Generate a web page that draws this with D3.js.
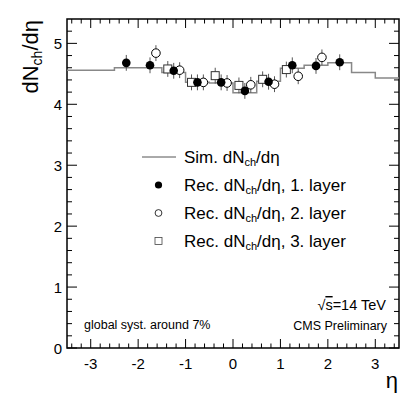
<!DOCTYPE html>
<html>
<head>
<meta charset="UTF-8">
<script src="https://d3js.org/d3.v7.min.js"></script>
<style>
  body { margin: 0; background: #fff; }
  svg { font-family: "Liberation Sans", Arial, Helvetica, sans-serif; }
</style>
</head>
<body>
<svg width="415" height="399"></svg>
<script>
// simulated histogram: bin edges and contents
const simEdges = [-3.5, -2.5, -1.5, -1.0, -0.5, 0, 0.5, 1.0, 1.5, 2.0, 2.5, 3.0, 3.5];
const simValues = [4.56, 4.60, 4.52, 4.36, 4.35, 4.19, 4.38, 4.59, 4.64, 4.68, 4.52, 4.43];

// reconstructed points, layer 1 (filled circles)
const l1Eta = [-2.25, -1.75, -1.25, -0.75, -0.25, 0.25, 0.75, 1.25, 1.75, 2.25];
const l1Val = [4.68, 4.64, 4.55, 4.36, 4.36, 4.22, 4.37, 4.64, 4.63, 4.69];
// layer 2 (open circles)
const l2Eta = [-1.625, -1.125, -0.625, -0.125, 0.375, 0.875, 1.375, 1.875];
const l2Val = [4.84, 4.56, 4.36, 4.35, 4.32, 4.33, 4.46, 4.77];
// layer 3 (open squares)
const l3Eta = [-1.375, -0.875, -0.375, 0.125, 0.625, 1.125];
const l3Val = [4.58, 4.36, 4.47, 4.31, 4.41, 4.57];
const errVal = 0.13;

const xTicks = [-3, -2, -1, 0, 1, 2, 3];
const yTicks = [0, 1, 2, 3, 4, 5];

const svg = d3.select("svg");
const L = 67, R = 399, T = 19, B = 348;

const x = d3.scaleLinear().domain([-3.5, 3.5]).range([L, R]);
const y = d3.scaleLinear().domain([0, 5.4]).range([B, T]);

// minor tick values
const xMinor = d3.range(-3.4, 3.5, 0.2).map(v => +v.toFixed(1)).filter(v => Math.abs(v - Math.round(v)) > 0.01);
const yMinor = d3.range(0.2, 5.4, 0.2).map(v => +v.toFixed(1)).filter(v => Math.abs(v - Math.round(v)) > 0.01);

const axes = svg.append("g").attr("stroke", "#000").attr("stroke-width", 1);
// bottom + top
[[B, -1], [T, 1]].forEach(([yy, dir]) => {
  axes.selectAll(null).data(xTicks).enter().append("line")
    .attr("x1", d => x(d)).attr("x2", d => x(d))
    .attr("y1", yy).attr("y2", yy + dir * 9);
  axes.selectAll(null).data(xMinor).enter().append("line")
    .attr("x1", d => x(d)).attr("x2", d => x(d))
    .attr("y1", yy).attr("y2", yy + dir * 4.5);
});
// left + right
[[L, 1], [R, -1]].forEach(([xx, dir]) => {
  axes.selectAll(null).data(yTicks).enter().append("line")
    .attr("x1", xx).attr("x2", xx + dir * 10)
    .attr("y1", d => y(d)).attr("y2", d => y(d));
  axes.selectAll(null).data(yMinor).enter().append("line")
    .attr("x1", xx).attr("x2", xx + dir * 5)
    .attr("y1", d => y(d)).attr("y2", d => y(d));
});
svg.append("rect").attr("x", L).attr("y", T).attr("width", R - L).attr("height", B - T)
  .attr("fill", "none").attr("stroke", "#000").attr("stroke-width", 1.5);

// tick labels
svg.selectAll(".xl").data(xTicks).enter().append("text")
  .attr("x", d => x(d)).attr("y", 369).attr("text-anchor", "middle")
  .attr("font-size", 15).text(d => d);
svg.selectAll(".yl").data(yTicks).enter().append("text")
  .attr("x", 62).attr("y", d => y(d) + 5.5).attr("text-anchor", "end")
  .attr("font-size", 15).text(d => d);

// axis titles
const yt = svg.append("text").attr("transform", "translate(38,20) rotate(-90)")
  .attr("text-anchor", "end").attr("font-size", 22);
yt.append("tspan").text("dN");
yt.append("tspan").attr("font-size", 14).attr("dy", 4).text("ch");
yt.append("tspan").attr("dy", -4).text("/dη");
svg.append("text").attr("x", 398).attr("y", 388).attr("text-anchor", "end")
  .attr("font-size", 22).text("η");

// simulated histogram as step line
const stepPts = [];
simValues.forEach((v, i) => {
  stepPts.push([simEdges[i], v], [simEdges[i + 1], v]);
});
svg.append("path")
  .attr("d", d3.line().x(d => x(d[0])).y(d => y(d[1]))(stepPts))
  .attr("fill", "none").attr("stroke", "#888").attr("stroke-width", 1.5);

// error bars
function errBars(eta, val) {
  svg.selectAll(null).data(eta.map((e, i) => [e, val[i]])).enter().append("line")
    .attr("x1", d => x(d[0])).attr("x2", d => x(d[0]))
    .attr("y1", d => y(d[1] - errVal)).attr("y2", d => y(d[1] + errVal))
    .attr("stroke", "#555").attr("stroke-width", 1);
}
errBars(l3Eta, l3Val);
errBars(l2Eta, l2Val);
errBars(l1Eta, l1Val);

const sq = 8;
svg.selectAll(null).data(l3Eta.map((e, i) => [e, l3Val[i]])).enter().append("rect")
  .attr("x", d => x(d[0]) - sq / 2).attr("y", d => y(d[1]) - sq / 2)
  .attr("width", sq).attr("height", sq)
  .attr("fill", "#fff").attr("stroke", "#333").attr("stroke-width", 1);
svg.selectAll(null).data(l2Eta.map((e, i) => [e, l2Val[i]])).enter().append("circle")
  .attr("cx", d => x(d[0])).attr("cy", d => y(d[1])).attr("r", 4.3)
  .attr("fill", "#fff").attr("stroke", "#000").attr("stroke-width", 1);
svg.selectAll(null).data(l1Eta.map((e, i) => [e, l1Val[i]])).enter().append("circle")
  .attr("cx", d => x(d[0])).attr("cy", d => y(d[1])).attr("r", 4.3)
  .attr("fill", "#000");

// legend
const legRows = [
  { kind: "line", label: "Sim. dN", tail: "/dη" },
  { kind: "filled", label: "Rec. dN", tail: "/dη, 1. layer" },
  { kind: "open", label: "Rec. dN", tail: "/dη, 2. layer" },
  { kind: "square", label: "Rec. dN", tail: "/dη, 3. layer" }
];
const legY = [157, 185, 213, 241];
legRows.forEach((r, i) => {
  const yy = legY[i];
  if (r.kind === "line") {
    svg.append("line").attr("x1", 142).attr("x2", 176).attr("y1", yy).attr("y2", yy)
      .attr("stroke", "#555").attr("stroke-width", 1);
  } else if (r.kind === "filled") {
    svg.append("circle").attr("cx", 158.5).attr("cy", yy).attr("r", 3.6).attr("fill", "#000");
  } else if (r.kind === "open") {
    svg.append("circle").attr("cx", 158.5).attr("cy", yy).attr("r", 3.4)
      .attr("fill", "none").attr("stroke", "#000").attr("stroke-width", 0.8);
  } else {
    svg.append("rect").attr("x", 155).attr("y", yy - 3.5).attr("width", 7).attr("height", 7)
      .attr("fill", "none").attr("stroke", "#444").attr("stroke-width", 0.8);
  }
  const t = svg.append("text").attr("x", 184).attr("y", yy + 6).attr("font-size", 17);
  t.append("tspan").text(r.label);
  t.append("tspan").attr("font-size", 11).attr("dy", 3).text("ch");
  t.append("tspan").attr("dy", -3).text(r.tail);
});

// annotations
svg.append("text").attr("x", 84).attr("y", 329).attr("font-size", 12.5).text("global syst. around 7%");
svg.append("text").attr("x", 387).attr("y", 330).attr("text-anchor", "end").attr("font-size", 12.5).text("CMS Preliminary");
const rs = svg.append("text").attr("x", 386).attr("y", 310).attr("text-anchor", "end").attr("font-size", 14.5);
rs.append("tspan").text("√");
rs.append("tspan").attr("text-decoration", "overline").text("s");
rs.append("tspan").text("=14 TeV");
</script>
</body>
</html>
